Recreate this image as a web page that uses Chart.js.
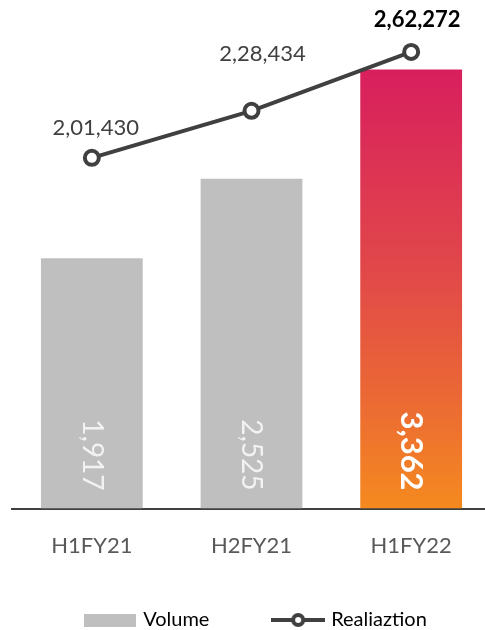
<!DOCTYPE html>
<html>
<head>
<meta charset="utf-8">
<script src="https://cdn.jsdelivr.net/npm/chart.js@4/dist/chart.umd.min.js"></script>
<style>
  html, body { margin: 0; padding: 0; background: #fff; overflow: hidden; }
  #wrap { width: 502px; height: 640px; }
</style>
</head>
<body>
<div id="wrap"><canvas id="myChart"></canvas></div>
<script>
const periods = ["H1FY21", "H2FY21", "H1FY22"];
const volume = [1917, 2525, 3362];
const realization = [201430, 228434, 262272];

// indian grouping, e.g. 2,01,430
function fmtIN(n) {
  const s = String(Math.round(n));
  if (s.length <= 3) return s;
  let last3 = s.slice(-3);
  let rest = s.slice(0, -3);
  rest = rest.replace(/\B(?=(\d{2})+(?!\d))/g, ",");
  return rest + "," + last3;
}

const FONT = "Lato, 'Liberation Sans', sans-serif";

function barColor(c) {
  if (c.dataIndex !== 2) return "#bfbfbf";
  const chart = c.chart;
  const area = chart.chartArea;
  if (!area) return "#e04848";
  const top = chart.scales.y.getPixelForValue(volume[2]);
  const g = chart.ctx.createLinearGradient(0, top, 0, area.bottom);
  g.addColorStop(0, "#d81f5e");
  g.addColorStop(0.45, "#e1474a");
  g.addColorStop(0.75, "#eb6934");
  g.addColorStop(1, "#f58a1f");
  return g;
}

// legend icons
function rectIcon() {
  const c = document.createElement("canvas");
  c.width = 52; c.height = 13;
  const x = c.getContext("2d");
  x.fillStyle = "#bfbfbf";
  x.fillRect(0, 0, 52, 13);
  return c;
}
function lineIcon() {
  const c = document.createElement("canvas");
  c.width = 54; c.height = 16;
  const x = c.getContext("2d");
  x.strokeStyle = "#404040";
  x.lineWidth = 4;
  x.beginPath(); x.moveTo(0, 8); x.lineTo(54, 8); x.stroke();
  x.fillStyle = "#fff";
  x.beginPath(); x.arc(27, 8, 5, 0, Math.PI * 2); x.fill(); x.stroke();
  return c;
}

const labelPlugin = {
  id: "labels",
  afterDatasetsDraw(chart) {
    const ctx = chart.ctx;
    const base = chart.chartArea.bottom;
    // rotated volume labels inside bars
    chart.getDatasetMeta(1).data.forEach((bar, i) => {
      const bold = i === 2;
      ctx.save();
      ctx.translate(bar.x, base - 18);
      ctx.rotate(Math.PI / 2);
      ctx.font = (bold ? "bold 31px " : "28px ") + FONT;
      ctx.fillStyle = bold ? "#ffffff" : "#f2f2f2";
      ctx.textAlign = "right";
      ctx.textBaseline = "middle";
      ctx.fillText(fmtIN(volume[i]), 0, 0);
      ctx.restore();
    });
    // realization labels above points
    const offs = [[4, -30], [11, -57], [6, -32]];
    chart.getDatasetMeta(0).data.forEach((pt, i) => {
      const bold = i === 2;
      ctx.save();
      ctx.font = (bold ? "bold 22px " : "22px ") + FONT;
      ctx.fillStyle = bold ? "#000000" : "#404040";
      ctx.textAlign = "center";
      ctx.textBaseline = "middle";
      ctx.fillText(fmtIN(realization[i]), pt.x + offs[i][0], pt.y + offs[i][1]);
      ctx.restore();
    });
  }
};

const ctx = document.getElementById("myChart");
new Chart(ctx, {
  data: {
    labels: periods,
    datasets: [
      {
        type: "line",
        label: "Realiaztion",
        data: realization,
        yAxisID: "y1",
        order: 0,
        borderColor: "#404040",
        borderWidth: 4,
        pointRadius: 7,
        pointBorderWidth: 4,
        pointBackgroundColor: "#ffffff",
        pointBorderColor: "#404040",
        tension: 0,
      },
      {
        type: "bar",
        label: "Volume",
        data: volume,
        yAxisID: "y",
        order: 1,
        backgroundColor: barColor,
        barPercentage: 0.75,
        categoryPercentage: 0.85,
      },
    ],
  },
  options: {
    responsive: true,
    maintainAspectRatio: false,
    animation: false,
    layout: { padding: { left: 12, right: 0, top: 20, bottom: 0 } },
    plugins: {
      tooltip: { enabled: false },
      legend: {
        position: "bottom",
        labels: {
          usePointStyle: true,
          pointStyleWidth: 46,
          color: "#404040",
          font: { family: FONT, size: 20 },
          padding: 35,
          generateLabels() {
            return [
              { text: "Volume      ", pointStyle: rectIcon(), fillStyle: "#bfbfbf", strokeStyle: "#bfbfbf", lineWidth: 0, datasetIndex: 1 },
              { text: "Realiaztion", pointStyle: lineIcon(), fillStyle: "#fff", strokeStyle: "#404040", lineWidth: 0, datasetIndex: 0 },
            ];
          },
        },
      },
    },
    scales: {
      x: {
        grid: { display: false },
        border: { display: true, color: "#404040", width: 2 },
        ticks: { color: "#595959", font: { family: FONT, size: 22 }, padding: 16 },
      },
      y: { display: false, min: 0, max: 3740 },
      y1: { display: false, min: 0, max: 280600 },
    },
  },
  plugins: [labelPlugin],
});
</script>
</body>
</html>
